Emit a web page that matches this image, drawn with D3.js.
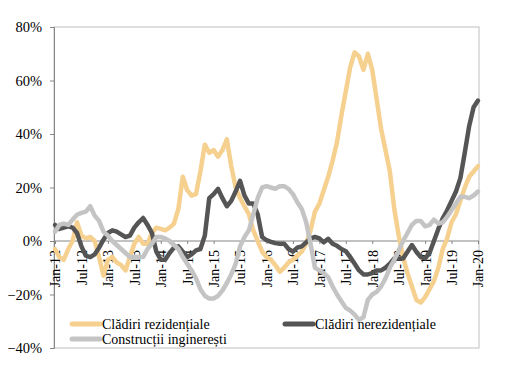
<html>
<head>
<script src="https://cdnjs.cloudflare.com/ajax/libs/d3/7.8.5/d3.min.js"></script>
<style>
body { margin: 0; background: white; }
</style>
</head>
<body></body>
<script>
var screen = {width: 505, height: 372};
var plot = {left: 54, right: 479, top: 27, bottom: 348};

// monthly categories Jan-12 .. Jan-20
var monthNames = ["Jan","Feb","Mar","Apr","May","Jun","Jul","Aug","Sep","Oct","Nov","Dec"];
var years = ["12","13","14","15","16","17","18","19","20"];
var months = [];
years.forEach(function(y) {
  monthNames.forEach(function(m) { months.push(m + "-" + y); });
});
months = months.slice(0, 97);

var xTickLabels = ["Jan-12","Jul-12","Jan-13","Jul-13","Jan-14","Jul-14","Jan-15","Jul-15",
  "Jan-16","Jul-16","Jan-17","Jul-17","Jan-18","Jul-18","Jan-19","Jul-19","Jan-20"];
var yTicks = [-0.4, -0.2, 0, 0.2, 0.4, 0.6, 0.8];

var seriesNames = ["Clădiri rezidențiale", "Clădiri nerezidențiale", "Construcții inginerești"];
var seriesColors = ["#F5D08F", "#555555", "#C4C4C4"];

// values in %
var rezidentiale = [-3,-6,-7,-3,0,7,2,1,1.5,0,-6,-13,-7,-6,-8,-9,-11,-6,-1,1.5,-1,-1,3,5,
  4.5,4,5,6.5,12,24,19,17,17.5,26,36,33,34,31.5,34,38,28,20,16,13,10,4,0,-4,
  -6,-7,-9,-11.5,-10,-8,-7,-5.5,-4,-1,4,11,14,19,24,30,37,47,56,65,70.5,69,64,70,
  64,53,42,34,26,12,2,-6,-12,-17,-22,-23,-21,-18,-15,-10,-3,1,7,10,15,20,24,26,28];
var nerezidentiale = [6,4.5,5,5.5,5,3,-2,-5.5,-6,-5,-2.5,0.5,3,4,3.5,2.5,1.5,2,5,7,8.6,6,3,-4,
  -7,-7,-4.5,-2.5,-2,-4,-6,-5,-3.5,-3,2,16,17.5,19.5,16,13,15,18.5,22.5,17,14,14,10,1.5,
  0.3,-0.3,-0.8,-1,-1,-3,-4,-2.5,-2,-0.5,1,1.5,1,-0.5,0.8,-1,-1.8,-3,-3.8,-6,-8.5,-11,-12.5,-12.5,
  -12,-11,-11,-10,-8.5,-6.5,-6.5,-6.5,-4,-1.5,-4,-6,-6.5,-4.5,0,4.5,8.5,11.5,15,18.5,23.5,33,43,50,52.5];
var ingineresti = [3.5,6,6.5,6,8,9.8,10.5,11,13,9.5,7.5,3.5,2,0,-1.5,-3,-4.5,-6,-6,-6,-6,-3,-1,1.5,
  1.5,1,0,-1.5,-3,-6,-8.5,-11,-14,-18,-20.5,-21.5,-21.5,-20.5,-18.5,-15.7,-12.5,-8.5,-2,1.5,4,10,16,20,
  20.5,20,19.5,20.5,20.5,19.5,17.5,14.5,12,7,-1,-10,-11,-12,-13.5,-17,-20,-22.5,-25,-26,-27.5,-29.5,-28.5,-22,
  -20,-19,-17,-14,-10,-7,-3.5,0,3,6,7.5,7.5,5.5,6,8,6.5,7,9,11.5,14,16.5,16.5,16,17,18.5];

var allSeries = [rezidentiale, nerezidentiale, ingineresti];

var svg = d3.select("body").append("svg")
  .attr("width", screen.width)
  .attr("height", screen.height)
  .style("background-color", "white");

var x = d3.scalePoint().domain(months).range([plot.left + 1, plot.right - 1]);
var y = d3.scaleLinear().domain([-0.4, 0.8]).range([plot.bottom, plot.top]);

// frame
svg.append("rect")
  .attr("x", plot.left).attr("y", plot.top)
  .attr("width", plot.right - plot.left).attr("height", plot.bottom - plot.top)
  .attr("fill", "none").attr("stroke", "#BFBFBF").attr("stroke-width", 1);

// y axis
var yAxis = svg.append("g")
  .attr("transform", "translate(" + plot.left + ",0)")
  .call(d3.axisLeft(y).tickValues(yTicks).tickFormat(d3.format(".0%")).tickSize(4).tickPadding(8));
yAxis.selectAll("path, line").attr("stroke", "#868686");
yAxis.selectAll("text")
  .attr("font-family", "Liberation Serif")
  .attr("font-size", 14.5)
  .attr("fill", "#000");

// x axis on zero line
var xAxis = svg.append("g")
  .attr("transform", "translate(0," + y(0) + ")")
  .call(d3.axisBottom(x).tickValues(xTickLabels).tickSize(3).tickSizeOuter(0));
xAxis.select("path").attr("stroke", "#868686").attr("d", "M" + plot.left + ",0H" + plot.right);
xAxis.selectAll("line").attr("stroke", "#868686");
xAxis.selectAll("text")
  .attr("font-family", "Liberation Serif")
  .attr("font-size", 14)
  .attr("fill", "#000")
  .attr("transform", "rotate(-90)")
  .attr("text-anchor", "end")
  .attr("x", -9)
  .attr("y", 0)
  .attr("dy", "0.35em");

// lines
var line = d3.line()
  .x(function(d, i) { return x(months[i]); })
  .y(function(d) { return y(d / 100); });

svg.selectAll("path.series")
  .data(allSeries)
  .enter().append("path")
  .attr("class", "series")
  .attr("d", line)
  .attr("fill", "none")
  .attr("stroke", function(d, i) { return seriesColors[i]; })
  .attr("stroke-width", 4.5)
  .attr("stroke-linejoin", "round")
  .attr("stroke-linecap", "round");

// legend
var legendPos = [{x: 72, y: 324}, {x: 285, y: 324}, {x: 72, y: 339}];
var legend = svg.selectAll("g.legend")
  .data(seriesNames)
  .enter().append("g")
  .attr("class", "legend")
  .attr("transform", function(d, i) { return "translate(" + legendPos[i].x + "," + legendPos[i].y + ")"; });
legend.append("line")
  .attr("x1", 0).attr("x2", 28).attr("y1", 0).attr("y2", 0)
  .attr("stroke", function(d, i) { return seriesColors[i]; })
  .attr("stroke-width", 5)
  .attr("stroke-linecap", "round");
legend.append("text")
  .attr("x", 30).attr("y", 0).attr("dy", "0.35em")
  .attr("font-family", "Liberation Serif")
  .attr("font-size", 14)
  .attr("fill", "#000")
  .text(function(d) { return d; });
</script>
</html>
